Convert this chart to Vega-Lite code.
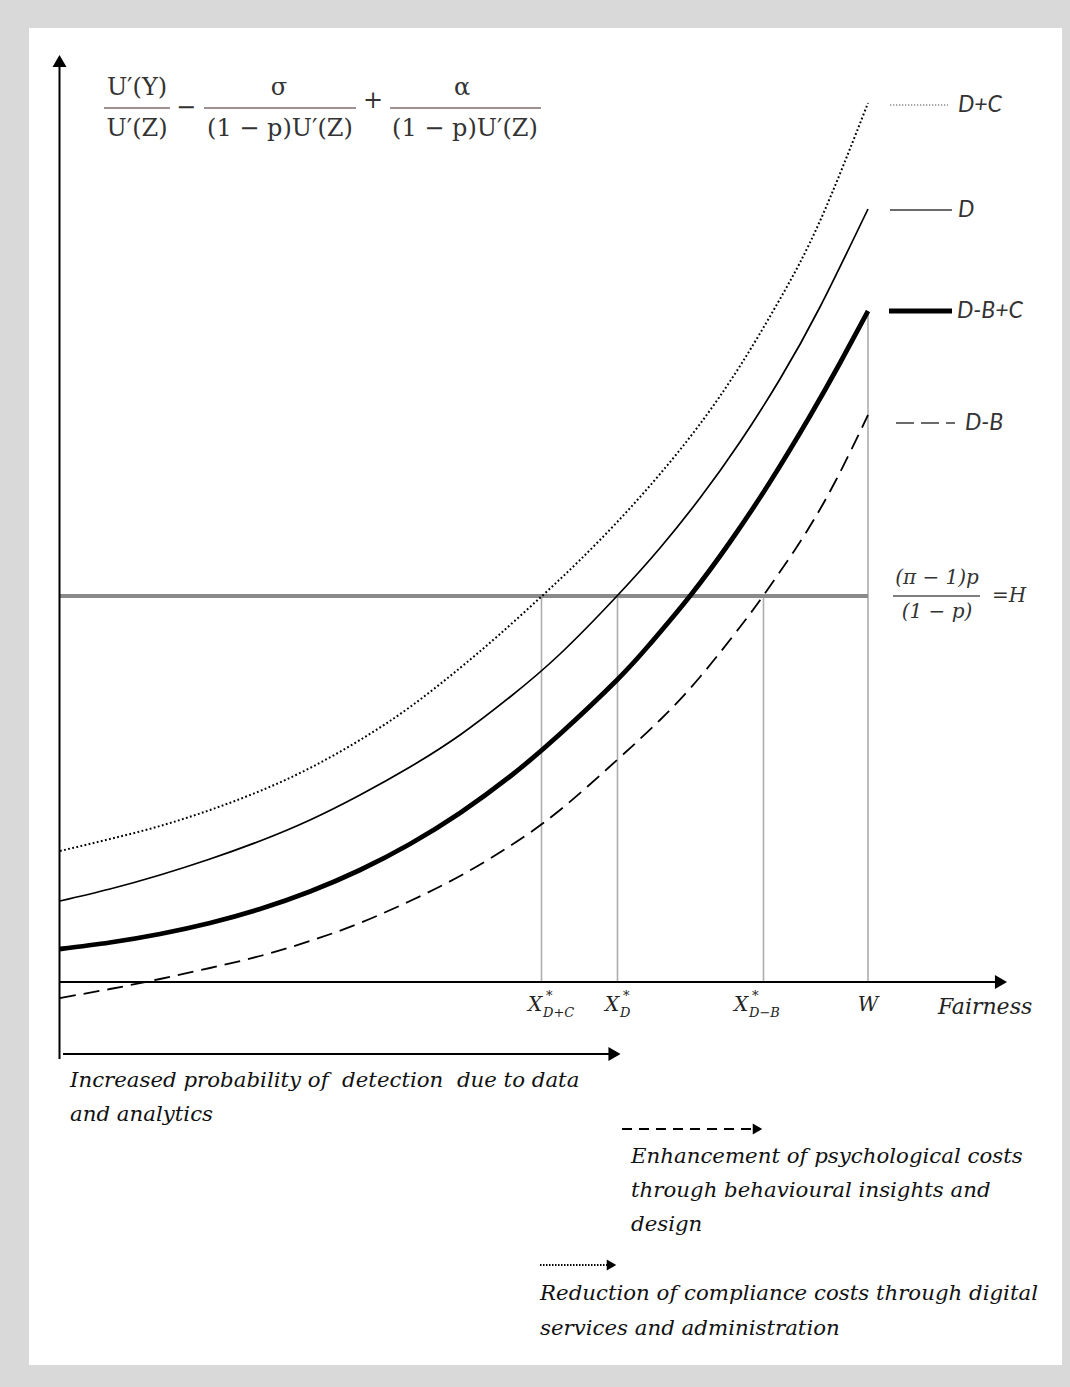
{
  "$schema": "https://vega.github.io/schema/vega-lite/v6.json",
  "width": 1070,
  "height": 1387,
  "autosize": {"type": "fit", "contains": "padding"},
  "padding": 0,
  "background": "#d9d9d9",
  "config": {"view": {"stroke": null}},
  "datasets": {
    "frame": [{"f": -0.31, "f2": 10.02, "v": -3.83, "v2": 9.54}],
    "curves": [
      {"series": "D+C", "f": 0, "v": 1.31}, {"series": "D+C", "f": 0.5, "v": 1.43}, {"series": "D+C", "f": 1.0, "v": 1.56}, {"series": "D+C", "f": 1.5, "v": 1.72}, {"series": "D+C", "f": 2.0, "v": 1.91}, {"series": "D+C", "f": 2.5, "v": 2.14}, {"series": "D+C", "f": 3.0, "v": 2.42}, {"series": "D+C", "f": 3.5, "v": 2.75}, {"series": "D+C", "f": 4.0, "v": 3.14}, {"series": "D+C", "f": 4.4, "v": 3.48}, {"series": "D+C", "f": 4.82, "v": 3.86}, {"series": "D+C", "f": 5.2, "v": 4.22}, {"series": "D+C", "f": 5.6, "v": 4.63}, {"series": "D+C", "f": 6.0, "v": 5.08}, {"series": "D+C", "f": 6.4, "v": 5.58}, {"series": "D+C", "f": 6.8, "v": 6.16}, {"series": "D+C", "f": 7.2, "v": 6.83}, {"series": "D+C", "f": 7.6, "v": 7.61}, {"series": "D+C", "f": 8.08, "v": 8.79},
      {"series": "D", "f": 0, "v": 0.81}, {"series": "D", "f": 0.5, "v": 0.93}, {"series": "D", "f": 1.0, "v": 1.07}, {"series": "D", "f": 1.5, "v": 1.23}, {"series": "D", "f": 2.0, "v": 1.41}, {"series": "D", "f": 2.5, "v": 1.62}, {"series": "D", "f": 3.0, "v": 1.87}, {"series": "D", "f": 3.5, "v": 2.15}, {"series": "D", "f": 4.0, "v": 2.47}, {"series": "D", "f": 4.5, "v": 2.85}, {"series": "D", "f": 5.0, "v": 3.28}, {"series": "D", "f": 5.57, "v": 3.86}, {"series": "D", "f": 6.0, "v": 4.34}, {"series": "D", "f": 6.4, "v": 4.84}, {"series": "D", "f": 6.8, "v": 5.4}, {"series": "D", "f": 7.2, "v": 6.03}, {"series": "D", "f": 7.6, "v": 6.75}, {"series": "D", "f": 8.08, "v": 7.73},
      {"series": "D-B+C", "f": 0, "v": 0.33}, {"series": "D-B+C", "f": 0.5, "v": 0.395}, {"series": "D-B+C", "f": 1.0, "v": 0.48}, {"series": "D-B+C", "f": 1.5, "v": 0.59}, {"series": "D-B+C", "f": 2.0, "v": 0.73}, {"series": "D-B+C", "f": 2.5, "v": 0.905}, {"series": "D-B+C", "f": 3.0, "v": 1.12}, {"series": "D-B+C", "f": 3.5, "v": 1.38}, {"series": "D-B+C", "f": 4.0, "v": 1.69}, {"series": "D-B+C", "f": 4.5, "v": 2.055}, {"series": "D-B+C", "f": 5.0, "v": 2.48}, {"series": "D-B+C", "f": 5.57, "v": 3.02}, {"series": "D-B+C", "f": 5.9, "v": 3.38}, {"series": "D-B+C", "f": 6.3, "v": 3.86}, {"series": "D-B+C", "f": 6.7, "v": 4.4}, {"series": "D-B+C", "f": 7.1, "v": 5.0}, {"series": "D-B+C", "f": 7.5, "v": 5.66}, {"series": "D-B+C", "f": 7.8, "v": 6.19}, {"series": "D-B+C", "f": 8.08, "v": 6.71},
      {"series": "D-B", "f": 0, "v": -0.16}, {"series": "D-B", "f": 0.5, "v": -0.07}, {"series": "D-B", "f": 1.0, "v": 0.03}, {"series": "D-B", "f": 1.5, "v": 0.14}, {"series": "D-B", "f": 2.0, "v": 0.26}, {"series": "D-B", "f": 2.5, "v": 0.41}, {"series": "D-B", "f": 3.0, "v": 0.59}, {"series": "D-B", "f": 3.5, "v": 0.81}, {"series": "D-B", "f": 4.0, "v": 1.06}, {"series": "D-B", "f": 4.5, "v": 1.36}, {"series": "D-B", "f": 5.0, "v": 1.72}, {"series": "D-B", "f": 5.57, "v": 2.22}, {"series": "D-B", "f": 6.0, "v": 2.62}, {"series": "D-B", "f": 6.4, "v": 3.05}, {"series": "D-B", "f": 6.8, "v": 3.55}, {"series": "D-B", "f": 7.03, "v": 3.86}, {"series": "D-B", "f": 7.4, "v": 4.4}, {"series": "D-B", "f": 7.75, "v": 5.0}, {"series": "D-B", "f": 8.08, "v": 5.67}
    ],
    "segments": [
      {"kind": "axis", "f": -0.005, "f2": -0.005, "v": -0.77, "v2": 9.16},
      {"kind": "axis", "f": -0.005, "f2": 9.36, "v": 0, "v2": 0},
      {"kind": "axis", "f": 0.03, "f2": 5.5, "v": -0.72, "v2": -0.72},
      {"kind": "H", "f": 0, "f2": 8.08, "v": 3.86, "v2": 3.86},
      {"kind": "drop", "f": 4.815, "f2": 4.815, "v": 0, "v2": 3.86},
      {"kind": "drop", "f": 5.575, "f2": 5.575, "v": 0, "v2": 3.86},
      {"kind": "drop", "f": 7.035, "f2": 7.035, "v": 0, "v2": 3.86},
      {"kind": "drop", "f": 8.08, "f2": 8.08, "v": 0, "v2": 6.71},
      {"kind": "legD+C", "f": 8.3, "f2": 8.88, "v": 8.77, "v2": 8.77},
      {"kind": "legD", "f": 8.3, "f2": 8.92, "v": 7.72, "v2": 7.72},
      {"kind": "legD-B+C", "f": 8.29, "f2": 8.92, "v": 6.71, "v2": 6.71},
      {"kind": "legD-B", "f": 8.36, "f2": 8.95, "v": 5.59, "v2": 5.59},
      {"kind": "frac", "f": 0.44, "f2": 1.1, "v": 8.74, "v2": 8.74},
      {"kind": "frac", "f": 1.44, "f2": 2.96, "v": 8.74, "v2": 8.74},
      {"kind": "frac", "f": 3.3, "f2": 4.81, "v": 8.74, "v2": 8.74},
      {"kind": "fracH", "f": 8.33, "f2": 9.2, "v": 3.86, "v2": 3.86},
      {"kind": "dasharrow", "f": 5.62, "f2": 6.93, "v": -1.47, "v2": -1.47},
      {"kind": "dotarrow", "f": 4.8, "f2": 5.49, "v": -2.83, "v2": -2.83}
    ],
    "heads": [
      {"kind": "up", "f": -0.005, "v": 9.21},
      {"kind": "right", "f": 9.41, "v": 0},
      {"kind": "right", "f": 5.545, "v": -0.72},
      {"kind": "rightsmall", "f": 6.975, "v": -1.47},
      {"kind": "rightsmall", "f": 5.515, "v": -2.83}
    ],
    "labels": [
      {"kind": "legend", "text": "D+C", "f": 8.98, "v": 8.77},
      {"kind": "legend", "text": "D", "f": 8.98, "v": 7.72},
      {"kind": "legend", "text": "D-B+C", "f": 8.97, "v": 6.71},
      {"kind": "legend", "text": "D-B", "f": 9.05, "v": 5.59},
      {"kind": "formula", "text": "U′(Y)", "f": 0.77, "v": 8.94},
      {"kind": "formula", "text": "U′(Z)", "f": 0.77, "v": 8.53},
      {"kind": "formula", "text": "−", "f": 1.26, "v": 8.74},
      {"kind": "formula", "text": "σ", "f": 2.19, "v": 8.94},
      {"kind": "formula", "text": "(1 − p)U′(Z)", "f": 2.2, "v": 8.53},
      {"kind": "formula", "text": "+", "f": 3.13, "v": 8.81},
      {"kind": "formula", "text": "α", "f": 4.02, "v": 8.94},
      {"kind": "formula", "text": "(1 − p)U′(Z)", "f": 4.05, "v": 8.53},
      {"kind": "hfrac", "text": "(π − 1)p", "f": 8.77, "v": 4.04},
      {"kind": "hfrac", "text": "(1 − p)", "f": 8.77, "v": 3.7},
      {"kind": "hlabel", "text": "=H", "f": 9.32, "v": 3.86},
      {"kind": "X", "text": "X", "f": 4.75, "v": -0.23},
      {"kind": "X", "text": "X", "f": 5.52, "v": -0.23},
      {"kind": "X", "text": "X", "f": 6.81, "v": -0.23},
      {"kind": "X", "text": "W", "f": 8.08, "v": -0.23},
      {"kind": "sup", "text": "*", "f": 4.86, "v": -0.14},
      {"kind": "sup", "text": "*", "f": 5.63, "v": -0.14},
      {"kind": "sup", "text": "*", "f": 6.92, "v": -0.14},
      {"kind": "sub", "text": "D+C", "f": 4.83, "v": -0.31},
      {"kind": "sub", "text": "D", "f": 5.6, "v": -0.31},
      {"kind": "sub", "text": "D−B", "f": 6.89, "v": -0.31},
      {"kind": "axisname", "text": "Fairness", "f": 8.78, "v": -0.25},
      {"kind": "note", "text": "Increased probability of\u00a0 detection\u00a0 due to data", "f": 0.1, "v": -0.99},
      {"kind": "note", "text": "and analytics", "f": 0.1, "v": -1.33},
      {"kind": "note", "text": "Enhancement of psychological costs", "f": 5.71, "v": -1.75},
      {"kind": "note", "text": "through behavioural insights and", "f": 5.71, "v": -2.09},
      {"kind": "note", "text": "design", "f": 5.71, "v": -2.43},
      {"kind": "note", "text": "Reduction of compliance costs through digital", "f": 4.8, "v": -3.12},
      {"kind": "note", "text": "services and administration", "f": 4.8, "v": -3.47}
    ]
  },
  "encoding": {
    "x": {"field": "f", "type": "quantitative", "scale": {"domain": [-0.6, 10.1], "nice": false, "zero": false}, "axis": null},
    "y": {"field": "v", "type": "quantitative", "scale": {"domain": [-4.05, 9.82], "nice": false, "zero": false}, "axis": null}
  },
  "layer": [
    {"data": {"name": "frame"}, "mark": {"type": "rect", "color": "#ffffff"}, "encoding": {"x2": {"field": "f2"}, "y2": {"field": "v2"}}},
    {"data": {"name": "segments"}, "transform": [{"filter": "datum.kind === 'drop'"}], "mark": {"type": "rule", "color": "#adadad", "strokeWidth": 1.6}, "encoding": {"x2": {"field": "f2"}, "y2": {"field": "v2"}}},
    {"data": {"name": "segments"}, "transform": [{"filter": "datum.kind === 'H'"}], "mark": {"type": "rule", "color": "#8a8a8a", "strokeWidth": 4}, "encoding": {"x2": {"field": "f2"}, "y2": {"field": "v2"}}},
    {"data": {"name": "segments"}, "transform": [{"filter": "datum.kind === 'axis'"}], "mark": {"type": "rule", "color": "#000000", "strokeWidth": 2}, "encoding": {"x2": {"field": "f2"}, "y2": {"field": "v2"}}},
    {"data": {"name": "curves"}, "transform": [{"filter": "datum.series === 'D+C'"}], "mark": {"type": "line", "color": "#000000", "strokeWidth": 2, "strokeDash": [1.8, 2.4], "interpolate": "natural"}, "encoding": {"order": {"field": "f"}}},
    {"data": {"name": "curves"}, "transform": [{"filter": "datum.series === 'D'"}], "mark": {"type": "line", "color": "#000000", "strokeWidth": 1.7, "interpolate": "natural"}, "encoding": {"order": {"field": "f"}}},
    {"data": {"name": "curves"}, "transform": [{"filter": "datum.series === 'D-B+C'"}], "mark": {"type": "line", "color": "#000000", "strokeWidth": 4.8, "interpolate": "natural"}, "encoding": {"order": {"field": "f"}}},
    {"data": {"name": "curves"}, "transform": [{"filter": "datum.series === 'D-B'"}], "mark": {"type": "line", "color": "#000000", "strokeWidth": 1.8, "strokeDash": [16, 8], "interpolate": "natural"}, "encoding": {"order": {"field": "f"}}},
    {"data": {"name": "segments"}, "transform": [{"filter": "datum.kind === 'legD+C'"}], "mark": {"type": "rule", "color": "#8c8c8c", "strokeWidth": 1.3, "strokeDash": [1.3, 1.7]}, "encoding": {"x2": {"field": "f2"}, "y2": {"field": "v2"}}},
    {"data": {"name": "segments"}, "transform": [{"filter": "datum.kind === 'legD'"}], "mark": {"type": "rule", "color": "#3a3a3a", "strokeWidth": 1.6}, "encoding": {"x2": {"field": "f2"}, "y2": {"field": "v2"}}},
    {"data": {"name": "segments"}, "transform": [{"filter": "datum.kind === 'legD-B+C'"}], "mark": {"type": "rule", "color": "#000000", "strokeWidth": 5}, "encoding": {"x2": {"field": "f2"}, "y2": {"field": "v2"}}},
    {"data": {"name": "segments"}, "transform": [{"filter": "datum.kind === 'legD-B'"}], "mark": {"type": "rule", "color": "#3a3a3a", "strokeWidth": 1.6, "strokeDash": [18, 7]}, "encoding": {"x2": {"field": "f2"}, "y2": {"field": "v2"}}},
    {"data": {"name": "segments"}, "transform": [{"filter": "datum.kind === 'frac'"}], "mark": {"type": "rule", "color": "#856b6b", "strokeWidth": 1.3}, "encoding": {"x2": {"field": "f2"}, "y2": {"field": "v2"}}},
    {"data": {"name": "segments"}, "transform": [{"filter": "datum.kind === 'fracH'"}], "mark": {"type": "rule", "color": "#555555", "strokeWidth": 1.3}, "encoding": {"x2": {"field": "f2"}, "y2": {"field": "v2"}}},
    {"data": {"name": "segments"}, "transform": [{"filter": "datum.kind === 'dasharrow'"}], "mark": {"type": "rule", "color": "#000000", "strokeWidth": 1.8, "strokeDash": [10, 7]}, "encoding": {"x2": {"field": "f2"}, "y2": {"field": "v2"}}},
    {"data": {"name": "segments"}, "transform": [{"filter": "datum.kind === 'dotarrow'"}], "mark": {"type": "rule", "color": "#000000", "strokeWidth": 1.8, "strokeDash": [1.5, 1.5]}, "encoding": {"x2": {"field": "f2"}, "y2": {"field": "v2"}}},
    {"data": {"name": "heads"}, "transform": [{"filter": "datum.kind === 'up'"}], "mark": {"type": "point", "shape": "triangle-up", "filled": true, "color": "#000000", "opacity": 1, "size": 196, "strokeWidth": 0}},
    {"data": {"name": "heads"}, "transform": [{"filter": "datum.kind === 'right'"}], "mark": {"type": "point", "shape": "triangle-right", "filled": true, "color": "#000000", "opacity": 1, "size": 196, "strokeWidth": 0}},
    {"data": {"name": "heads"}, "transform": [{"filter": "datum.kind === 'rightsmall'"}], "mark": {"type": "point", "shape": "triangle-right", "filled": true, "color": "#000000", "opacity": 1, "size": 120, "strokeWidth": 0}},
    {"data": {"name": "labels"}, "transform": [{"filter": "datum.kind === 'legend'"}], "mark": {"type": "text", "align": "left", "baseline": "middle", "font": "Lato", "fontStyle": "italic", "fontSize": 23, "color": "#333333"}, "encoding": {"text": {"field": "text"}}},
    {"data": {"name": "labels"}, "transform": [{"filter": "datum.kind === 'formula'"}], "mark": {"type": "text", "align": "center", "baseline": "middle", "font": "DejaVu Serif", "fontSize": 24, "color": "#333333"}, "encoding": {"text": {"field": "text"}}},
    {"data": {"name": "labels"}, "transform": [{"filter": "datum.kind === 'hfrac'"}], "mark": {"type": "text", "align": "center", "baseline": "middle", "font": "DejaVu Serif", "fontStyle": "italic", "fontSize": 20, "color": "#333333"}, "encoding": {"text": {"field": "text"}}},
    {"data": {"name": "labels"}, "transform": [{"filter": "datum.kind === 'hlabel'"}], "mark": {"type": "text", "align": "left", "baseline": "middle", "font": "DejaVu Serif", "fontStyle": "italic", "fontSize": 20, "color": "#333333"}, "encoding": {"text": {"field": "text"}}},
    {"data": {"name": "labels"}, "transform": [{"filter": "datum.kind === 'X'"}], "mark": {"type": "text", "align": "center", "baseline": "middle", "font": "DejaVu Serif", "fontStyle": "italic", "fontSize": 20, "color": "#222222"}, "encoding": {"text": {"field": "text"}}},
    {"data": {"name": "labels"}, "transform": [{"filter": "datum.kind === 'sup'"}], "mark": {"type": "text", "align": "left", "baseline": "middle", "font": "DejaVu Serif", "fontSize": 13, "color": "#222222"}, "encoding": {"text": {"field": "text"}}},
    {"data": {"name": "labels"}, "transform": [{"filter": "datum.kind === 'sub'"}], "mark": {"type": "text", "align": "left", "baseline": "middle", "font": "DejaVu Serif", "fontStyle": "italic", "fontSize": 13, "color": "#222222"}, "encoding": {"text": {"field": "text"}}},
    {"data": {"name": "labels"}, "transform": [{"filter": "datum.kind === 'axisname'"}], "mark": {"type": "text", "align": "left", "baseline": "middle", "font": "DejaVu Serif", "fontStyle": "italic", "fontSize": 22, "color": "#222222"}, "encoding": {"text": {"field": "text"}}},
    {"data": {"name": "labels"}, "transform": [{"filter": "datum.kind === 'note'"}], "mark": {"type": "text", "align": "left", "baseline": "middle", "font": "DejaVu Serif", "fontStyle": "italic", "fontSize": 21.3, "color": "#111111"}, "encoding": {"text": {"field": "text"}}}
  ]
}
